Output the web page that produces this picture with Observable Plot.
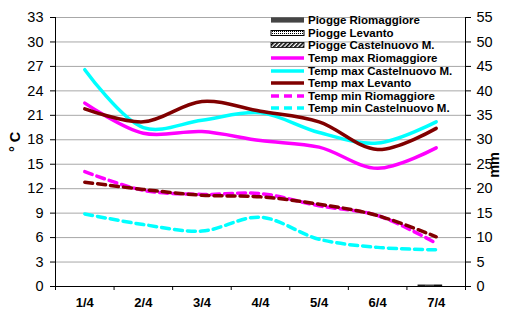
<!DOCTYPE html>
<html><head><meta charset="utf-8">
<script src="https://cdn.jsdelivr.net/npm/d3@7"></script>
<script src="https://cdn.jsdelivr.net/npm/@observablehq/plot@0.6"></script>
<style>
body{margin:0;background:#fff;}
#wrap{position:relative;width:508px;height:311px;font-family:"Liberation Sans",Arial,sans-serif;}
#legend{position:absolute;left:270px;top:14px;font-weight:bold;font-size:11.5px;color:#000;}
.row{display:flex;align-items:center;height:12.6px;white-space:nowrap;}
.row svg{margin-right:3px;flex:none;}
</style></head>
<body><div id="wrap"><div id="legend"></div></div>
<script>
const days = ["1/4","2/4","3/4","4/4","5/4","6/4","7/4"];
// temperatures (°C)
const tmaxRio = [22.5, 18.8, 19.0, 17.9, 17.1, 14.5, 17.0];
const tmaxCas = [26.6, 19.5, 20.4, 21.3, 18.9, 17.6, 20.2];
const tmaxLev = [21.8, 20.2, 22.7, 21.5, 20.2, 16.8, 19.4];
const tminRio = [14.1, 11.8, 11.3, 11.4, 9.9, 8.7, 5.3];
const tminCas = [8.9, 7.6, 6.8, 8.5, 5.8, 4.8, 4.5];
const tminLev = [12.8, 11.9, 11.2, 11.0, 10.1, 8.7, 6.1];
// rain (mm)
const pRio = [0, 0, 0, 0, 0, 0, 0.3];
const pLev = [0, 0, 0, 0, 0, 0, 0.3];
const pCas = [0, 0, 0, 0, 0, 0, 0.3];
const tempTicks = d3.range(0, 34, 3);
const mmTicks = d3.range(0, 56, 5);
const k = 33 / 55;

const lineSeries = [
  {name: "Temp max Riomaggiore", values: tmaxRio, color: "#ff00ff", dash: null, legend: true},
  {name: "Temp max Castelnuovo M.", values: tmaxCas, color: "#00ffff", dash: null, legend: true},
  {name: "Temp max Levanto", values: tmaxLev, color: "#800000", dash: null, legend: true},
  {name: "Temp min Riomaggiore", values: tminRio, color: "#ff00ff", dash: "8,5", legend: true},
  {name: "Temp min Castelnuovo M.", values: tminCas, color: "#00ffff", dash: "8,5", legend: true},
  {name: "Temp min Levanto", values: tminLev, color: "#800000", dash: "8,5", legend: false}
];
const barSeries = [
  {name: "Piogge Riomaggiore", values: pRio, fill: "#222", off: -0.24},
  {name: "Piogge Levanto", values: pLev, fill: "#444", off: -0.1},
  {name: "Piogge Castelnuovo M.", values: pCas, fill: "#111", off: 0.04}
];
const bw = 0.14;
const barData = barSeries.flatMap(s => s.values.map((v, i) => ({i, mm: v, s})));

const marks = [
  Plot.ruleY(tempTicks, {stroke: "#a8a8a8", strokeWidth: 1}),
  Plot.rectY(barData.filter(d => d.mm > 0), {x1: d => d.i + d.s.off - bw/2, x2: d => d.i + d.s.off + bw/2, y1: 0, y2: d => d.mm * k, fill: d => d.s.fill}),
  Plot.ruleY([0], {stroke: "#000"}),
  Plot.ruleX([-0.5, 6.5], {stroke: "#000"}),
  Plot.axisY(tempTicks, {anchor: "left", tickSize: 5, tickPadding: 7, fontSize: 14.5, label: null}),
  Plot.axisY(mmTicks.map(v => v * k), {anchor: "right", tickSize: 5, tickPadding: 6, fontSize: 14.5, tickFormat: v => Math.round(v / k), label: null}),
  Plot.axisX(d3.range(-0.5, 7, 1), {anchor: "bottom", tickSize: 4, tickFormat: () => "", label: null}),
  Plot.axisX(d3.range(days.length), {anchor: "bottom", tickSize: 0, tickPadding: 11, fontSize: 13, fontWeight: "bold", tickFormat: i => days[i], label: null}),
  Plot.text(["° C"], {text: d => d, frameAnchor: "left", rotate: -90, dx: -40, fontSize: 14.5, fontWeight: "bold"}),
  Plot.text(["mm"], {text: d => d, frameAnchor: "right", rotate: -90, dx: 29, fontSize: 14.5, fontWeight: "bold"})
];
for (const s of lineSeries) {
  marks.push(Plot.line(s.values.map((v, i) => ({i, v})), {x: "i", y: "v", curve: "catmull-rom", stroke: s.color, strokeWidth: 3.5, strokeDasharray: s.dash || undefined}));
}

const chart = Plot.plot({
  width: 508, height: 311,
  marginLeft: 55, marginRight: 43, marginTop: 17, marginBottom: 25,
  style: {fontFamily: "'Liberation Sans', Arial, sans-serif", background: "#fff", color: "#000", overflow: "visible"},
  x: {type: "linear", domain: [-0.5, 6.5], axis: null},
  y: {domain: [0, 33], axis: null},
  marks
});
const wrap = document.getElementById("wrap");
wrap.insertBefore(chart, wrap.firstChild);

// legend
const legend = document.getElementById("legend");
const sw = (inner) => `<svg width="35" height="8" viewBox="0 0 35 8">${inner}</svg>`;
const items = [
  {label: "Piogge Riomaggiore", svg: sw(`<rect x="1" y="1.5" width="33" height="5" fill="#222"/><line x1="1" x2="34" y1="3" y2="3" stroke="#888" stroke-width="0.7"/><line x1="1" x2="34" y1="5" y2="5" stroke="#888" stroke-width="0.7"/>`)},
  {label: "Piogge Levanto", svg: sw(`<defs><pattern id="dots" width="2" height="2" patternUnits="userSpaceOnUse"><rect width="2" height="2" fill="#fff"/><rect width="1" height="1" fill="#000"/></pattern></defs><rect x="1" y="1.5" width="33" height="5" fill="url(#dots)" stroke="#000" stroke-width="1"/>`)},
  {label: "Piogge Castelnuovo M.", svg: sw(`<defs><pattern id="hatch" width="3" height="3" patternUnits="userSpaceOnUse" patternTransform="rotate(45)"><rect width="3" height="3" fill="#fff"/><rect width="1.6" height="3" fill="#000"/></pattern></defs><rect x="1" y="1.5" width="33" height="5" fill="url(#hatch)" stroke="#000" stroke-width="0.8"/>`)}
];
for (const s of lineSeries.filter(s => s.legend)) {
  items.push({label: s.name, svg: sw(`<line x1="1" x2="34" y1="4" y2="4" stroke="${s.color}" stroke-width="3.5" ${s.dash ? `stroke-dasharray="${s.dash}"` : ""}/>`)});
}
legend.innerHTML = items.map(d => `<div class="row">${d.svg}<span>${d.label}</span></div>`).join("");
</script>
</body></html>
